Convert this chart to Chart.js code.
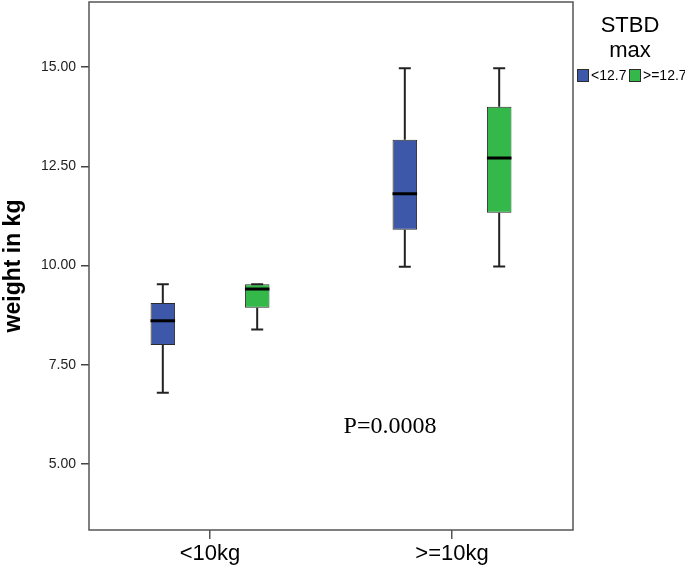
<!DOCTYPE html>
<html>
<head>
<meta charset="utf-8">
<script src="https://cdn.jsdelivr.net/npm/chart.js@4/dist/chart.umd.min.js"></script>
<style>
    body { margin: 0; background: #fff; }
    #wrap { width: 685px; height: 569px; }
</style>
</head>
<body>
<div id="wrap"><canvas id="boxChart"></canvas></div>
<script>
const categories = ["<10kg", ">=10kg"];
const groupNames = ["<12.7", ">=12.7"];
const groupColors = ["#3d57a9", "#35b84a"];

// box stats per group: [category <10kg, category >=10kg]
const lowWhisker = [[6.8, 9.97], [8.39, 9.98]];
const q1Values = [[8.0, 10.9], [8.94, 11.33]];
const medianValues = [[8.61, 11.81], [9.41, 12.71]];
const q3Values = [[9.06, 13.17], [9.53, 14.0]];
const highWhisker = [[9.53, 14.97], [9.53, 14.97]];

const yTicks = [5, 7.5, 10, 12.5, 15];
const yMin = 3.34;
const yMax = 16.64;

const datasets = groupNames.map((name, g) => ({
    label: name,
    data: categories.map((c, i) => [q1Values[g][i], q3Values[g][i]]),
    backgroundColor: groupColors[g],
    borderColor: "#2b2b2b",
    borderWidth: 1,
    borderSkipped: false,
    categoryPercentage: 0.78,
    barPercentage: 0.26,
}));

const boxPlugin = {
    id: "boxExtras",
    afterDatasetsDraw(chart) {
        const ctx = chart.ctx;
        const y = chart.scales.y;
        ctx.save();
        datasets.forEach((ds, g) => {
            const meta = chart.getDatasetMeta(g);
            meta.data.forEach((bar, i) => {
                const cx = bar.x;
                const cap = 6;
                const yLow = y.getPixelForValue(lowWhisker[g][i]);
                const yQ1 = y.getPixelForValue(q1Values[g][i]);
                const yQ3 = y.getPixelForValue(q3Values[g][i]);
                const yHigh = y.getPixelForValue(highWhisker[g][i]);
                const yMed = y.getPixelForValue(medianValues[g][i]);
                ctx.strokeStyle = "#222";
                ctx.lineWidth = 2;
                ctx.beginPath();
                ctx.moveTo(cx, yQ1); ctx.lineTo(cx, yLow);
                ctx.moveTo(cx - cap, yLow); ctx.lineTo(cx + cap, yLow);
                if (yHigh < yQ3) {
                    ctx.moveTo(cx, yQ3); ctx.lineTo(cx, yHigh);
                }
                ctx.moveTo(cx - cap, yHigh); ctx.lineTo(cx + cap, yHigh);
                ctx.stroke();
                ctx.strokeStyle = "#000";
                ctx.lineWidth = 3;
                ctx.beginPath();
                ctx.moveTo(bar.x - bar.width / 2, yMed);
                ctx.lineTo(bar.x + bar.width / 2, yMed);
                ctx.stroke();
            });
        });

        // frame round the plot area
        const a = chart.chartArea;
        ctx.strokeStyle = "#555";
        ctx.lineWidth = 1.5;
        ctx.strokeRect(a.left, a.top, a.right - a.left, a.bottom - a.top);

        // p value note
        ctx.fillStyle = "#000";
        ctx.font = "24px 'Liberation Serif', 'Times New Roman', serif";
        ctx.textAlign = "center";
        ctx.textBaseline = "middle";
        ctx.fillText("P=0.0008", 390, 427);

        // legend
        ctx.font = "22px 'Liberation Sans', Arial, sans-serif";
        ctx.fillText("STBD", 630, 26);
        ctx.fillText("max", 630, 51);
        ctx.font = "14px 'Liberation Sans', Arial, sans-serif";
        ctx.textAlign = "left";
        let lx = 577;
        groupNames.forEach((name, g) => {
            ctx.fillStyle = groupColors[g];
            ctx.fillRect(lx, 69, 12, 13);
            ctx.strokeStyle = "#2b2b2b";
            ctx.lineWidth = 1;
            ctx.strokeRect(lx + 0.5, 69.5, 11, 12);
            ctx.fillStyle = "#000";
            ctx.fillText(name, lx + 14, 76);
            lx += 52;
        });
        ctx.restore();
    }
};

new Chart(document.getElementById("boxChart").getContext("2d"), {
    type: "bar",
    data: { labels: categories, datasets: datasets },
    plugins: [boxPlugin],
    options: {
        responsive: true,
        maintainAspectRatio: false,
        animation: false,
        layout: { padding: { top: 2, right: 112, left: 0, bottom: 0 } },
        plugins: {
            legend: { display: false },
            tooltip: { enabled: false },
        },
        scales: {
            x: {
                grid: { display: true, offset: false, drawOnChartArea: false, drawTicks: true, tickLength: 9, color: "#555", lineWidth: 1.5 },
                border: { display: false },
                ticks: { color: "#000", font: { size: 22, family: "'Liberation Sans', Arial, sans-serif" }, padding: 2 },
                afterFit(scale) { scale.height = 39; scale.paddingLeft = 0; scale.paddingRight = 0; },
            },
            y: {
                min: yMin,
                max: yMax,
                afterBuildTicks(scale) { scale.ticks = yTicks.map(v => ({ value: v })); },
                grid: { display: true, drawOnChartArea: false, drawTicks: true, tickLength: 8, color: "#444", lineWidth: 1.5 },
                border: { display: false },
                ticks: {
                    color: "#222",
                    padding: 5,
                    font: { size: 14, family: "'Liberation Sans', Arial, sans-serif" },
                    callback: (v) => Number(v).toFixed(2),
                },
                title: {
                    display: true,
                    text: "weight in kg",
                    color: "#000",
                    font: { size: 23, weight: "bold", family: "'Liberation Sans', Arial, sans-serif" },
                    padding: { top: 0, bottom: 0 },
                },
                afterFit(scale) { scale.width = 89; scale.paddingTop = 0; scale.paddingBottom = 0; },
            },
        },
    },
});
</script>
</body>
</html>
